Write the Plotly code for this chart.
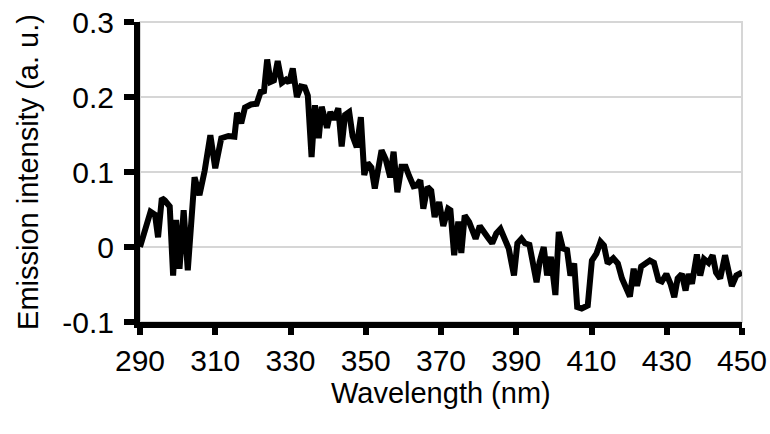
import plotly.graph_objects as go

wavelength = [
    290.0, 292.8, 294.0, 294.8, 295.8, 296.6, 297.9, 298.8, 299.6, 300.5,
    301.6, 302.7, 304.5, 305.8, 307.2, 308.7, 310.0, 311.6, 313.5, 315.1,
    315.8, 316.9, 317.9, 319.5, 321.0, 322.2, 322.9, 323.8, 324.7, 325.6,
    326.6, 327.7, 328.8, 329.6, 330.6, 331.7, 332.8, 333.8, 334.6, 335.6,
    336.5, 337.5, 338.3, 339.0, 339.7, 340.6, 341.6, 342.7, 343.6, 344.5,
    345.6, 346.5, 347.6, 348.7, 349.6, 350.5, 351.5, 352.4, 354.2, 355.3,
    356.5, 357.4, 358.4, 359.5, 360.6, 361.5, 362.7, 363.5, 364.5, 365.3,
    366.4, 367.4, 368.3, 369.5, 370.6, 371.9, 372.5, 373.5, 374.6, 375.4,
    376.3, 377.5, 378.4, 379.2, 380.3, 381.4, 382.4, 383.6, 384.7, 385.8,
    386.9, 388.0, 389.4, 390.3, 391.4, 392.3, 393.5, 395.4, 396.2, 397.3,
    398.2, 399.2, 400.4, 401.3, 402.4, 403.5, 404.4, 405.4, 406.2, 407.4,
    409.0, 410.1, 411.3, 412.4, 413.3, 414.3, 415.8, 417.0, 418.1, 419.0,
    420.2, 421.2, 422.1, 423.2, 424.4, 425.5, 426.6, 427.8, 428.7, 429.9,
    431.0, 432.0, 432.9, 434.0, 435.0, 435.8, 436.7, 438.0, 438.9, 439.9,
    441.1, 442.2, 443.1, 444.2, 445.5, 446.4, 447.3, 448.5, 449.5, 450.0,
]
intensity = [
    0.000, 0.047, 0.043, 0.013, 0.065, 0.062, 0.054, -0.038, 0.036, -0.029,
    0.049, -0.031, 0.093, 0.069, 0.102, 0.149, 0.105, 0.145, 0.148, 0.147,
    0.179, 0.165, 0.186, 0.190, 0.191, 0.209, 0.205, 0.250, 0.220, 0.222,
    0.248, 0.219, 0.223, 0.219, 0.238, 0.200, 0.214, 0.213, 0.202, 0.120,
    0.189, 0.145, 0.187, 0.170, 0.159, 0.180, 0.170, 0.185, 0.134, 0.176,
    0.180, 0.148, 0.133, 0.173, 0.096, 0.112, 0.106, 0.078, 0.129, 0.117,
    0.093, 0.127, 0.073, 0.107, 0.107, 0.095, 0.081, 0.082, 0.089, 0.051,
    0.080, 0.075, 0.040, 0.060, 0.028, 0.051, 0.049, -0.011, 0.034, -0.008,
    0.042, 0.033, 0.020, 0.011, 0.028, 0.018, 0.013, 0.005, 0.018, 0.024,
    0.009, -0.002, -0.038, 0.005, 0.011, 0.005, 0.003, -0.047, -0.020, 0.000,
    -0.038, -0.013, -0.064, 0.020, -0.002, -0.004, -0.038, -0.022, -0.080, -0.082,
    -0.078, -0.018, -0.009, 0.007, 0.002, -0.022, -0.015, -0.022, -0.042, -0.053,
    -0.066, -0.029, -0.052, -0.026, -0.022, -0.018, -0.021, -0.044, -0.046, -0.036,
    -0.049, -0.067, -0.042, -0.036, -0.058, -0.036, -0.049, -0.010, -0.038, -0.016,
    -0.021, -0.011, -0.034, -0.042, -0.011, -0.029, -0.052, -0.038, -0.034, -0.034,
]

x_ticks = [290, 310, 330, 350, 370, 390, 410, 430, 450]
y_ticks = [-0.1, 0, 0.1, 0.2, 0.3]
y_tick_text = ["-0.1", "0", "0.1", "0.2", "0.3"]
x_title = "Wavelength (nm)"
y_title = "Emission intensity (a. u.)"

FONT = "Liberation Sans, Arial, sans-serif"

fig = go.Figure()
fig.add_trace(go.Scatter(
    x=wavelength, y=intensity, mode="lines",
    line=dict(color="black", width=6),
    showlegend=False, cliponaxis=False,
))

fig.add_shape(type="rect", xref="paper", yref="paper", x0=0, x1=1, y0=0, y1=1,
              line=dict(color="#d6d6d6", width=2), layer="below")

fig.add_annotation(text=x_title, xref="paper", yref="paper", x=0.5, y=-0.238,
                   xanchor="center", yanchor="middle", showarrow=False,
                   font=dict(family=FONT, size=29, color="black"))

fig.update_layout(
    width=770, height=434,
    margin=dict(l=140, r=28, t=22, b=112),
    paper_bgcolor="white", plot_bgcolor="white",
    font=dict(family=FONT, size=30, color="black"),
    xaxis=dict(
        range=[290, 450], tickvals=x_ticks, ticktext=[str(v) for v in x_ticks],
        showgrid=False, zeroline=False, automargin=False,
        showline=True, linecolor="black", linewidth=6,
        ticks="outside", ticklen=7, tickwidth=6, tickcolor="black",
        ticklabelstandoff=0,
    ),
    yaxis=dict(
        range=[-0.1, 0.3], tickvals=y_ticks, ticktext=y_tick_text,
        showgrid=True, gridcolor="#d6d6d6", gridwidth=2, zeroline=False,
        automargin=False,
        showline=True, linecolor="black", linewidth=6,
        ticks="outside", ticklen=10, tickwidth=6, tickcolor="black",
        ticklabelstandoff=4,
        title=dict(text=y_title, standoff=17, font=dict(size=29)),
    ),
)

fig.write_html("out.html")
